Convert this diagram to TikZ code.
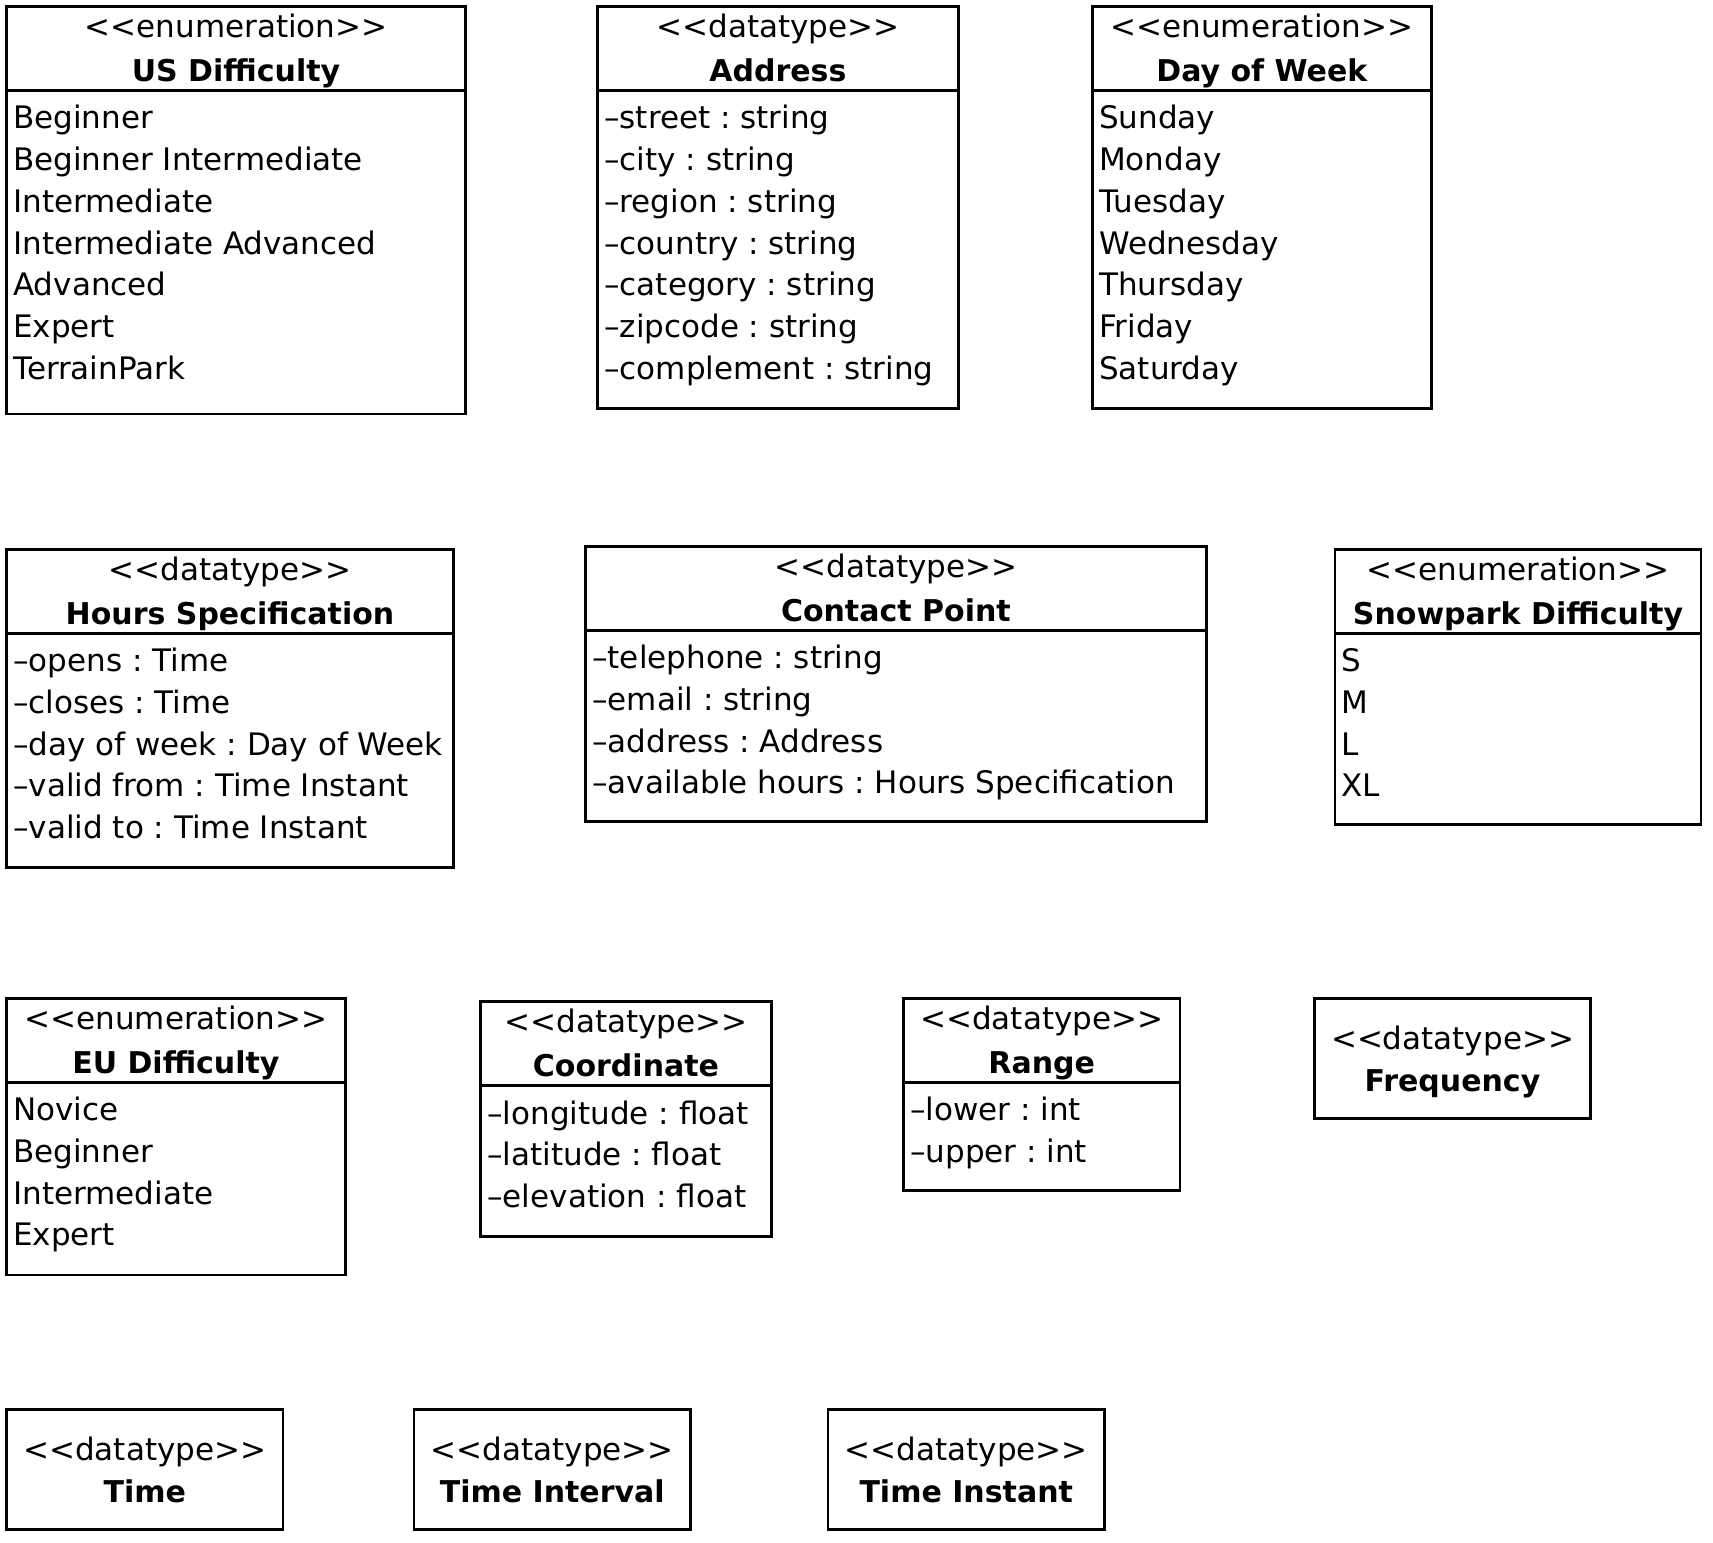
\documentclass[tikz,border=0pt]{standalone}
\usepackage{fontspec}
\setmainfont{DejaVu Sans}
\usepackage{tikz}
\frenchspacing
\tikzset{
	umlbox/.style={draw=black, line width=2.8pt},
	stereo/.style={anchor=base, inner sep=0pt, font=\fontsize{31}{37}\selectfont},
	classname/.style={anchor=base, inner sep=0pt, font=\fontsize{30}{36}\selectfont\bfseries},
	attr/.style={anchor=base west, inner sep=0pt, font=\fontsize{31}{37}\selectfont}
}
% class with attributes: (name)(x1,y1)(x2,y2){stereotype}{title}{attributes}
\def\umlclass(#1)(#2,#3)(#4,#5)#6#7#8{
	\draw[umlbox] (#2,#3) rectangle (#4,#5);
	\draw[umlbox] (#2,#3+84) -- (#4,#3+84);
	\node[stereo] (#1-st) at ({(#2+#4)/2},#3+31) {<\kern0pt<#6>\kern0pt>};
	\node[classname] (#1) at ({(#2+#4)/2},#3+75) {#7};
	\foreach \a [count=\i] in {#8}
		\node[attr] (#1-\i) at (#2+6.5,#3+84+38.3+41.7*\i-41.7) {\a};
}
% class with header only
\def\umltype(#1)(#2,#3)(#4,#5)#6#7{
	\draw[umlbox] (#2,#3) rectangle (#4,#5);
	\node[stereo] (#1-st) at ({(#2+#4)/2},#3+51) {<\kern0pt<#6>\kern0pt>};
	\node[classname] (#1) at ({(#2+#4)/2},#3+93) {#7};
}

\begin{document}
\begin{tikzpicture}[x=1pt,y=-1pt]
		%%%%% START %%%%%
		\useasboundingbox (0,0) rectangle (1713,1542);
		
		% first row
		\umlclass(usdiff)(6.6,6.6)(465.4,414){enumeration}{US Difficulty}{Beginner,Beginner Intermediate,Intermediate,Intermediate Advanced,Advanced,Expert,TerrainPark}
		\umlclass(address)(597.6,6.6)(958.1,408.6){datatype}{Address}{–street : string,–city : string,–region : string,–country : string,–category : string,–zipcode : string,–complement : string}
		\umlclass(dayofweek)(1092.5,6.6)(1431.2,408.6){enumeration}{Day of Week}{Sunday,Monday,Tuesday,Wednesday,Thursday,Friday,Saturday}
		
		% second row
		\umlclass(hoursspec)(6.6,549.5)(453.4,867.4){datatype}{Hours Specification}{–opens : Time,–closes : Time,–day of week : Day of Week,–valid from : Time Instant,–valid to : Time Instant}
		\umlclass(contact)(585.6,546.3)(1206.1,821.6){datatype}{Contact Point}{–telephone : string,–email : string,–address : Address,–available hours : Hours Specification}
		\umlclass(snowpark)(1335,549.5)(1701,824.8){enumeration}{Snowpark Difficulty}{S,M,L,XL}
		
		% third row
		\umlclass(eudiff)(6.6,998.5)(345.2,1275){enumeration}{EU Difficulty}{Novice,Beginner,Intermediate,Expert}
		\umlclass(coord)(480.7,1001.8)(771.3,1236.7){datatype}{Coordinate}{–longitude : float,–latitude : float,–elevation : float}
		\umlclass(range)(903.5,998.5)(1179.9,1190.8){datatype}{Range}{–lower : int,–upper : int}
		\umltype(frequency)(1314.3,998.5)(1590.7,1118.7){datatype}{Frequency}
		
		% fourth row
		\umltype(time)(6.6,1409.3)(283,1529.5){datatype}{Time}
		\umltype(interval)(414,1409.3)(690.5,1529.5){datatype}{Time Interval}
		\umltype(instant)(828,1409.3)(1104.5,1529.5){datatype}{Time Instant}
		%%%%% END %%%%%
	\end{tikzpicture}
\end{document}
